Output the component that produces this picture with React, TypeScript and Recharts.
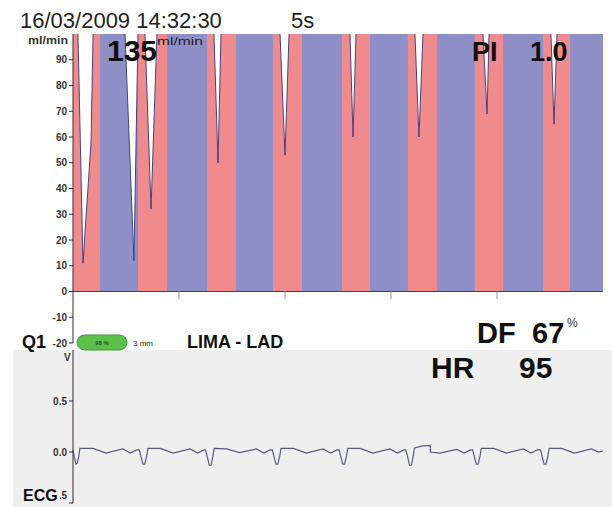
import {
  ComposedChart,
  Area,
  LineChart,
  Line,
  XAxis,
  YAxis,
  ReferenceLine,
} from "recharts";

const FONT = "'Liberation Sans', Arial, Helvetica, sans-serif";

// flow trace over the 5 s sweep (ml/min, anything above 100 runs off the top)
const flowTime = [
  0, 0.047, 0.094, 0.17, 0.189, 0.22, 0.255, 0.4, 0.491, 0.575, 0.613, 0.64,
  0.679, 0.736, 0.792, 0.83, 0.887, 1.05, 1.264, 1.33, 1.368, 1.396, 1.45,
  1.538, 1.7, 1.887, 1.953, 2.0, 2.038, 2.09, 2.16, 2.35, 2.538, 2.613, 2.642,
  2.67, 2.72, 2.802, 2.98, 3.16, 3.226, 3.264, 3.302, 3.35, 3.434, 3.6, 3.792,
  3.868, 3.906, 3.925, 3.98, 4.057, 4.25, 4.434, 4.509, 4.538, 4.566, 4.62,
  4.689, 4.85, 5.0,
];
const flowValue = [
  130, 100, 11, 58, 100, 140, 150, 170, 100, 12, 100, 125, 100, 32, 100, 140,
  150, 175, 150, 100, 50, 100, 140, 145, 170, 150, 100, 53, 100, 140, 145, 170,
  150, 100, 60, 100, 140, 145, 170, 150, 100, 60, 100, 140, 145, 170, 150, 100,
  69, 100, 140, 145, 170, 150, 100, 65, 100, 140, 145, 170, 160,
];

// systole (red) phases, diastole (blue) in between
const systoleStart = [0, 0.613, 1.264, 1.887, 2.538, 3.16, 3.792, 4.434];
const systoleEnd = [0.255, 0.887, 1.538, 2.16, 2.802, 3.434, 4.057, 4.689];

const flowTicks = [-20, -10, 0, 10, 20, 30, 40, 50, 60, 70, 80, 90];
const secondTicks = [1, 2, 3, 4];

// ECG trace (V)
const ecgTime = [
  0, 0.015, 0.028, 0.04, 0.055, 0.065, 0.19, 0.31, 0.47, 0.54, 0.6,
  0.625, 0.645, 0.66, 0.677, 0.695, 0.707, 0.825, 0.945, 1.105, 1.175, 1.235,
  1.25, 1.27, 1.285, 1.302, 1.32, 1.332, 1.45, 1.57, 1.73, 1.8, 1.86,
  1.88, 1.9, 1.915, 1.932, 1.95, 1.962, 2.08, 2.2, 2.36, 2.43, 2.49,
  2.51, 2.53, 2.545, 2.562, 2.58, 2.592, 2.71, 2.83, 2.99, 3.06, 3.12,
  3.14, 3.16, 3.175, 3.192, 3.21, 3.222, 3.3, 3.37, 3.372, 3.46, 3.62, 3.69,
  3.75,
  3.77, 3.79, 3.805, 3.822, 3.84, 3.852, 3.97, 4.09, 4.25, 4.32, 4.38,
  4.41, 4.43, 4.445, 4.462, 4.48, 4.492, 4.61, 4.73, 4.89, 4.96, 5.0,
];
const ecgValue = [
  0.02, -0.06, -0.12, -0.11, -0.04, 0.035, 0.035, -0.01, 0.03, -0.01, 0.02,
  0.02, -0.06, -0.12, -0.12, -0.04, 0.035, 0.035, -0.01, 0.03, -0.01, 0.02,
  0.02, -0.06, -0.13, -0.13, -0.04, 0.035, 0.03, -0.005, 0.03, -0.01, 0.02,
  0.02, -0.06, -0.12, -0.12, -0.04, 0.035, 0.035, -0.01, 0.03, -0.01, 0.02,
  0.02, -0.06, -0.12, -0.12, -0.04, 0.035, 0.035, -0.01, 0.03, -0.01, 0.02,
  0.02, -0.06, -0.13, -0.13, -0.04, 0.04, 0.06, 0.065, 0.0, -0.01, 0.025, -0.01,
  0.02,
  0.02, -0.06, -0.12, -0.12, -0.04, 0.035, 0.035, -0.01, 0.03, -0.01, 0.02,
  0.02, -0.06, -0.12, -0.12, -0.04, 0.035, 0.035, -0.01, 0.03, 0.0, 0.01,
];
const ecgTicks = [-0.5, 0, 0.5];

const inSystole = (t: number) =>
  systoleStart.some((s, i) => t >= s - 1e-9 && t <= systoleEnd[i] + 1e-9);
const inDiastole = (t: number) =>
  systoleEnd.some((e, i) => {
    const next = i + 1 < systoleStart.length ? systoleStart[i + 1] : 5;
    return t >= e - 1e-9 && t <= next + 1e-9;
  });

const flowData = flowTime.map((t, i) => ({
  t,
  sys: inSystole(t) ? flowValue[i] : null,
  dia: inDiastole(t) ? flowValue[i] : null,
}));

const ecgData = ecgTime.map((t, i) => ({ t, v: ecgValue[i] }));

const COLORS = {
  systole: "#f08a8c",
  diastole: "#8f8fc8",
  trace: "#34347e",
  ecg: "#5a5a80",
  axis: "#3a2a2a",
  ecgBg: "#efefef",
};

const tickStyle = {
  fontSize: 10,
  fontWeight: "bold",
  fill: "#333",
  fontFamily: FONT,
};

function EcgTick(props: any) {
  const { x, y, payload } = props;
  const v = payload.value as number;
  const label = v === 0 ? "0.0" : v.toFixed(1);
  return (
    <text
      x={x}
      y={v < 0 ? y - 8 : y}
      dy={3.5}
      textAnchor="end"
      {...tickStyle}
    >
      {label}
    </text>
  );
}

export default function App() {
  return (
    <div
      style={{
        position: "absolute",
        left: 0,
        top: 0,
        width: 612,
        height: 507,
        background: "#fff",
        fontFamily: FONT,
        overflow: "hidden",
      }}
    >
      <div
        style={{
          position: "absolute",
          left: 13,
          top: 350,
          width: 599,
          height: 157,
          background: COLORS.ecgBg,
        }}
      />
      <div style={{ position: "absolute", left: 0, top: 0 }}>
        <ComposedChart
          width={612}
          height={350}
          data={flowData}
          margin={{ top: 34, right: 9, bottom: 7, left: 0 }}
        >
          <XAxis dataKey="t" type="number" domain={[0, 5]} hide />
          <YAxis
            domain={[-20, 100]}
            ticks={flowTicks}
            allowDataOverflow
            width={73}
            tickSize={4}
            tick={tickStyle}
            stroke={COLORS.axis}
            interval={0}
          />
          <Area
            type="linear"
            dataKey="sys"
            fill={COLORS.systole}
            fillOpacity={1}
            stroke={COLORS.trace}
            strokeWidth={0.9}
            isAnimationActive={false}
          />
          <Area
            type="linear"
            dataKey="dia"
            fill={COLORS.diastole}
            fillOpacity={1}
            stroke={COLORS.trace}
            strokeWidth={0.9}
            isAnimationActive={false}
          />
          <ReferenceLine y={0} stroke="#444" strokeWidth={1} />
          {secondTicks.map((s) => (
            <ReferenceLine
              key={s}
              segment={[
                { x: s, y: 0 },
                { x: s, y: -3 },
              ]}
              stroke="#999"
            />
          ))}
        </ComposedChart>
      </div>
      <div style={{ position: "absolute", left: 0, top: 340 }}>
        <LineChart
          width={612}
          height={167}
          data={ecgData}
          margin={{ top: 10, right: 9, bottom: 4, left: 0 }}
        >
          <XAxis dataKey="t" type="number" domain={[0, 5]} hide />
          <YAxis
            domain={[-0.5, 1]}
            ticks={ecgTicks}
            width={73}
            tickSize={4}
            tick={<EcgTick />}
            stroke={COLORS.axis}
            interval={0}
          />
          <Line
            type="linear"
            dataKey="v"
            stroke={COLORS.ecg}
            strokeWidth={1.2}
            dot={false}
            isAnimationActive={false}
          />
        </LineChart>
      </div>
      <svg
        width={612}
        height={507}
        style={{ position: "absolute", left: 0, top: 0, pointerEvents: "none" }}
        fontFamily={FONT}
      >
        <text x={20} y={28} fontSize={22} fill="#222">
          16/03/2009 14:32:30
        </text>
        <text x={291} y={28} fontSize={22} fill="#222">
          5s
        </text>
        <text
          x={28}
          y={44}
          fontSize={10}
          fontWeight="bold"
          fill="#333"
          textLength={40}
          lengthAdjust="spacingAndGlyphs"
        >
          ml/min
        </text>
        <text x={107} y={61} fontSize={30} fontWeight="bold" fill="#111">
          135
        </text>
        <text
          x={157}
          y={45}
          fontSize={11}
          fill="#222"
          textLength={46}
          lengthAdjust="spacingAndGlyphs"
        >
          ml/min
        </text>
        <text x={472} y={61} fontSize={27} fontWeight="bold" fill="#111">
          PI
        </text>
        <text x={530} y={61} fontSize={27} fontWeight="bold" fill="#111">
          1.0
        </text>
        <text x={477} y={343} fontSize={29} fontWeight="bold" fill="#111">
          DF
        </text>
        <text x={532} y={343} fontSize={29} fontWeight="bold" fill="#111">
          67
        </text>
        <text x={567} y={327} fontSize={12} fill="#333">
          %
        </text>
        <text x={431} y={378} fontSize={30} fontWeight="bold" fill="#111">
          HR
        </text>
        <text x={519} y={378} fontSize={30} fontWeight="bold" fill="#111">
          95
        </text>
        <text x={22} y={348} fontSize={18} fontWeight="bold" fill="#111">
          Q1
        </text>
        <rect
          x={77}
          y={335}
          width={50}
          height={15}
          rx={7.5}
          fill="#5cbf4c"
          stroke="#3d9a36"
        />
        <text
          x={102}
          y={345}
          fontSize={6}
          fontWeight="bold"
          textAnchor="middle"
          fill="#1f5a1a"
        >
          98 %
        </text>
        <text x={133} y={346} fontSize={8} fill="#222">
          3 mm
        </text>
        <text x={187} y={348} fontSize={18} fontWeight="bold" fill="#111">
          LIMA - LAD
        </text>
        <text x={64} y={361} fontSize={10} fontWeight="bold" fill="#333">
          V
        </text>
        <rect x={20} y={484} width={40} height={18} fill={COLORS.ecgBg} />
        <text x={23} y={501} fontSize={16} fontWeight="bold" fill="#111">
          ECG
        </text>
      </svg>
    </div>
  );
}
